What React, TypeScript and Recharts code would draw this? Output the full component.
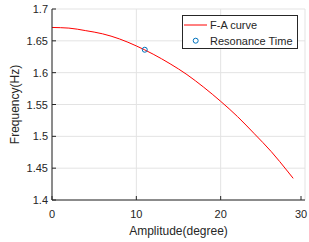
import { ComposedChart, Line, Scatter, XAxis, YAxis, CartesianGrid, Legend } from "recharts";

const amplitude = [0, 2, 4, 6, 8, 10, 12, 14, 16, 18, 20, 22, 24, 26, 28, 28.6];
const frequency = [1.671, 1.67, 1.666, 1.661, 1.653, 1.642, 1.629, 1.614, 1.597, 1.577, 1.555, 1.531, 1.504, 1.476, 1.444, 1.434];
const resonance = [{ amp: 11, freq: 1.636 }];
const xTicks = [0, 10, 20, 30];
const yTicks = [1.4, 1.45, 1.5, 1.55, 1.6, 1.65, 1.7];

const FONT = "'Liberation Sans', Arial, Helvetica, sans-serif";
const INK = "#262626";

const curve = amplitude.map((a, i) => ({ amp: a, freq: frequency[i] }));

const BottomTick = (p: any) => (
  <g>
    <line x1={p.x} y1={p.y} x2={p.x} y2={p.y - 4} stroke={INK} />
    <text x={p.x} y={p.y + 18} textAnchor="middle" fill={INK} fontSize={11} fontFamily={FONT}>
      {p.payload.value}
    </text>
  </g>
);

const TopTick = (p: any) => <line x1={p.x} y1={p.y} x2={p.x} y2={p.y + 4} stroke={INK} />;

const LeftTick = (p: any) => (
  <g>
    <line x1={p.x} y1={p.y} x2={p.x + 4} y2={p.y} stroke={INK} />
    <text x={p.x - 4} y={p.y + 4} textAnchor="end" fill={INK} fontSize={11} fontFamily={FONT}>
      {p.payload.value}
    </text>
  </g>
);

const RightTick = (p: any) => <line x1={p.x} y1={p.y} x2={p.x - 4} y2={p.y} stroke={INK} />;

const LegendBox = () => (
  <svg width={116} height={34} style={{ display: "block" }}>
    <rect x={0.5} y={0.5} width={115} height={33} fill="#fff" stroke={INK} />
    <line x1={2} x2={25} y1={10} y2={10} stroke="#ff0000" />
    <text x={28} y={14} fontSize={11} fontFamily={FONT} fill={INK}>F-A curve</text>
    <circle cx={13.7} cy={25.7} r={2.5} fill="none" stroke="#0072BD" />
    <text x={28} y={29.7} fontSize={11} fontFamily={FONT} fill={INK}>Resonance Time</text>
  </svg>
);

export default function App() {
  return (
    <div style={{ position: "absolute", left: 0, top: 0, width: 309, height: 242, background: "#fff" }}>
      <ComposedChart width={309} height={242} margin={{ top: 9, right: 4, left: 0, bottom: 0 }}>
        <CartesianGrid stroke="#e3e3e3" horizontalValues={yTicks} verticalValues={xTicks} />
        <XAxis
          type="number"
          dataKey="amp"
          domain={[0, 30]}
          ticks={xTicks}
          height={42}
          tickSize={0}
          tickMargin={0}
          axisLine={{ stroke: INK }}
          tick={BottomTick}
          allowDataOverflow
          label={{ value: "Amplitude(degree)", position: "insideBottom", offset: 7, fill: INK, fontSize: 12, fontFamily: FONT }}
        />
        <XAxis
          xAxisId="t"
          orientation="top"
          type="number"
          domain={[0, 30]}
          ticks={xTicks}
          height={0}
          tickSize={0}
          tickMargin={0}
          axisLine={{ stroke: INK }}
          tick={TopTick}
        />
        <YAxis
          type="number"
          domain={[1.4, 1.7]}
          ticks={yTicks}
          width={52}
          tickSize={0}
          tickMargin={0}
          axisLine={{ stroke: INK }}
          tick={LeftTick}
          allowDataOverflow
          label={{
            value: "Frequency(Hz)",
            angle: -90,
            position: "insideLeft",
            offset: 15,
            fill: INK,
            fontSize: 12,
            fontFamily: FONT,
            style: { textAnchor: "middle" },
          }}
        />
        <YAxis
          yAxisId="r"
          orientation="right"
          type="number"
          domain={[1.4, 1.7]}
          ticks={yTicks}
          width={0}
          tickSize={0}
          tickMargin={0}
          axisLine={{ stroke: INK }}
          tick={RightTick}
        />
        <Line
          data={curve}
          dataKey="freq"
          stroke="#ff0000"
          strokeWidth={1}
          dot={false}
          type="monotone"
          isAnimationActive={false}
        />
        <Scatter
          data={resonance}
          dataKey="freq"
          fill="none"
          stroke="#0072BD"
          shape={(p: any) => <circle cx={p.cx} cy={p.cy} r={2.5} fill="none" stroke="#0072BD" />}
          isAnimationActive={false}
        />
        <Legend
          layout="horizontal"
          verticalAlign="middle"
          align="center"
          wrapperStyle={{ top: 15, left: 182, width: 116, height: 34 }}
          content={() => <LegendBox />}
        />
      </ComposedChart>
    </div>
  );
}
